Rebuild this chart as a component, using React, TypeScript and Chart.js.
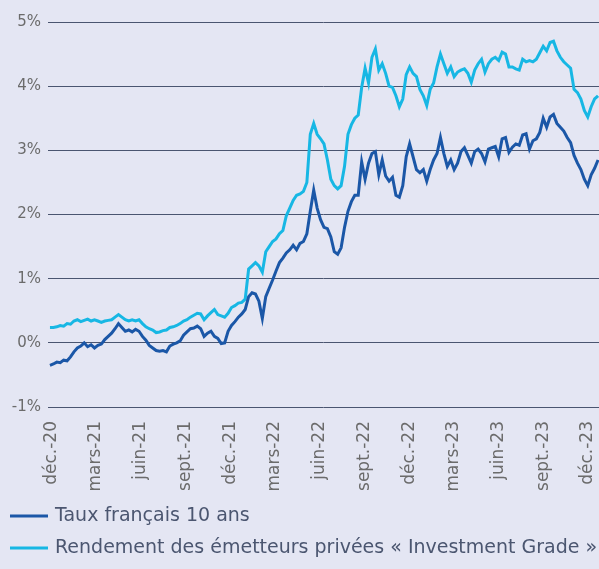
import React, { useEffect, useRef } from 'react';
import { Chart, registerables } from 'chart.js';

Chart.register(...registerables);

// x axis: days since 1 Dec 2020; one observation per week
const startDay = -4;
const stepDays = 7;

const tickDays = [0, 90, 182, 274, 365, 455, 547, 639, 730, 820, 912, 1004, 1095];
const tickLabels = [
  'déc.-20', 'mars-21', 'juin-21', 'sept.-21', 'déc.-21', 'mars-22', 'juin-22',
  'sept.-22', 'déc.-22', 'mars-23', 'juin-23', 'sept.-23', 'déc.-23',
];

const seriesNames = [
  'Taux français 10 ans',
  'Rendement des émetteurs privées « Investment Grade »',
];

const tauxFrancais10Ans = [
  -0.35, -0.33, -0.30, -0.31, -0.27, -0.28, -0.22, -0.14, -0.08, -0.05,
  0.00, -0.06, -0.03, -0.08, -0.04, -0.02, 0.05, 0.10, 0.15, 0.22,
  0.30, 0.24, 0.18, 0.20, 0.17, 0.21, 0.18, 0.10, 0.04, -0.04,
  -0.08, -0.12, -0.13, -0.12, -0.14, -0.05, -0.02, 0.00, 0.03, 0.12,
  0.17, 0.22, 0.23, 0.26, 0.22, 0.10, 0.15, 0.18, 0.10, 0.07,
  -0.01, 0.00, 0.18, 0.27, 0.33, 0.40, 0.45, 0.52, 0.72, 0.78,
  0.76, 0.65, 0.38, 0.72, 0.85, 0.98, 1.12, 1.25, 1.32, 1.40,
  1.45, 1.52, 1.45, 1.55, 1.58, 1.70, 2.05, 2.38, 2.10, 1.92,
  1.80, 1.78, 1.65, 1.42, 1.38, 1.48, 1.80, 2.05, 2.20, 2.30,
  2.30, 2.82, 2.55, 2.80, 2.95, 2.98, 2.62, 2.85, 2.60, 2.52,
  2.58, 2.30, 2.27, 2.45, 2.90, 3.10, 2.90, 2.70, 2.65, 2.70,
  2.52, 2.70, 2.85, 2.95, 3.20, 2.95, 2.75, 2.85, 2.70, 2.80,
  2.98, 3.04, 2.92, 2.80, 2.98, 3.02, 2.95, 2.82, 3.02, 3.04,
  3.06, 2.90, 3.18, 3.20, 2.97, 3.05, 3.10, 3.08, 3.24, 3.26,
  3.02, 3.15, 3.18, 3.28, 3.50, 3.36, 3.52, 3.56, 3.42, 3.36,
  3.30, 3.20, 3.12, 2.92, 2.80, 2.70, 2.55, 2.45, 2.62, 2.72,
  2.85,
];

const rendementInvestmentGrade = [
  0.24, 0.24, 0.25, 0.27, 0.26, 0.30, 0.29, 0.34, 0.36, 0.33,
  0.35, 0.37, 0.34, 0.36, 0.34, 0.32, 0.34, 0.35, 0.36, 0.40,
  0.44, 0.40, 0.36, 0.34, 0.36, 0.34, 0.36, 0.30, 0.25, 0.22,
  0.20, 0.16, 0.17, 0.19, 0.20, 0.24, 0.25, 0.27, 0.30, 0.34,
  0.36, 0.40, 0.43, 0.46, 0.45, 0.36, 0.42, 0.47, 0.52, 0.44,
  0.42, 0.40, 0.46, 0.55, 0.58, 0.62, 0.63, 0.68, 1.15, 1.20,
  1.25, 1.20, 1.10, 1.42, 1.50, 1.58, 1.62, 1.70, 1.75, 1.98,
  2.10, 2.22, 2.30, 2.32, 2.36, 2.50, 3.25, 3.42, 3.25, 3.18,
  3.10, 2.85, 2.55, 2.45, 2.40, 2.45, 2.75, 3.25, 3.40, 3.50,
  3.55, 3.98, 4.28, 4.05, 4.45, 4.58, 4.25, 4.35, 4.20, 4.00,
  3.98, 3.85, 3.68, 3.80, 4.18, 4.30, 4.20, 4.15, 3.95, 3.85,
  3.70, 3.95, 4.05, 4.30, 4.50, 4.35, 4.20, 4.30, 4.15, 4.22,
  4.25, 4.27, 4.20, 4.06, 4.25, 4.35, 4.42, 4.22, 4.35, 4.42,
  4.45, 4.40, 4.53, 4.50, 4.30, 4.30, 4.27, 4.25, 4.42, 4.38,
  4.40, 4.38, 4.42, 4.52, 4.62, 4.55, 4.68, 4.70, 4.55, 4.45,
  4.38, 4.33, 4.28, 3.95, 3.90, 3.80, 3.62, 3.52, 3.68, 3.80,
  3.85,
];

const yTicks = [-1, 0, 1, 2, 3, 4, 5];

const COLORS = ['#1b57a7', '#17b7e4'];
const BG = '#e4e6f3';
const FONT = "'DejaVu Sans', sans-serif";

const toPoints = (vals: number[]) =>
  vals.map((v, i) => ({ x: startDay + i * stepDays, y: v }));

const bgPlugin = {
  id: 'bgFill',
  beforeDraw(chart: any) {
    const { ctx, width, height } = chart;
    ctx.save();
    ctx.fillStyle = BG;
    ctx.fillRect(0, 0, width, height);
    ctx.restore();
  },
};

const legendPlugin = {
  id: 'customLegend',
  afterDraw(chart: any) {
    const { ctx, height } = chart;
    ctx.save();
    chart.data.datasets.forEach((ds: any, i: number) => {
      const y = height - 53 + i * 32;
      ctx.fillStyle = ds.borderColor;
      ctx.fillRect(10, y - 1.5, 38, 3);
      ctx.fillStyle = '#4b5670';
      ctx.font = `19px ${FONT}`;
      ctx.textBaseline = 'middle';
      ctx.textAlign = 'left';
      ctx.fillText(ds.label, 55, y);
    });
    ctx.restore();
  },
};

export default function App() {
  const ref = useRef<HTMLCanvasElement | null>(null);

  useEffect(() => {
    if (!ref.current) return;
    const chart = new Chart(ref.current, {
      type: 'line',
      data: {
        datasets: [
          {
            label: seriesNames[0],
            data: toPoints(tauxFrancais10Ans),
            borderColor: COLORS[0],
            backgroundColor: COLORS[0],
            borderWidth: 3,
            pointRadius: 0,
            tension: 0,
          },
          {
            label: seriesNames[1],
            data: toPoints(rendementInvestmentGrade),
            borderColor: COLORS[1],
            backgroundColor: COLORS[1],
            borderWidth: 3,
            pointRadius: 0,
            tension: 0,
          },
        ],
      },
      options: {
        animation: false,
        responsive: true,
        maintainAspectRatio: false,
        layout: { padding: { top: 22, right: 0, bottom: 72, left: 0 } },
        plugins: {
          legend: { display: false },
          tooltip: { enabled: false },
        },
        scales: {
          x: {
            type: 'linear',
            min: -8,
            max: 1118,
            afterBuildTicks: (scale: any) => {
              scale.ticks = tickDays.map((v) => ({ value: v }));
            },
            afterFit: (scale: any) => {
              scale.height = 90;
              scale.paddingLeft = 0;
              scale.paddingRight = 0;
            },
            grid: { display: false },
            border: { display: false },
            ticks: {
              autoSkip: false,
              minRotation: 90,
              maxRotation: 90,
              padding: 6,
              color: '#6b6b6b',
              font: { family: FONT, size: 17 },
              callback: (_v: any, i: number) => tickLabels[i],
            },
          },
          y: {
            min: -1,
            max: 5,
            afterBuildTicks: (scale: any) => {
              scale.ticks = yTicks.map((v) => ({ value: v }));
            },
            afterFit: (scale: any) => {
              scale.width = 48;
            },
            grid: { color: '#4a5570', lineWidth: 1, drawTicks: false },
            border: { display: false },
            ticks: {
              padding: 7,
              color: '#6b6b6b',
              font: { family: FONT, size: 15 },
              callback: (v: any) => `${v}%`,
            },
          },
        },
      },
      plugins: [bgPlugin, legendPlugin],
    } as any);
    return () => chart.destroy();
  }, []);

  return (
    <div
      style={{
        position: 'absolute',
        left: 0,
        top: 0,
        width: 599,
        height: 569,
        background: BG,
      }}
    >
      <canvas ref={ref} />
    </div>
  );
}
